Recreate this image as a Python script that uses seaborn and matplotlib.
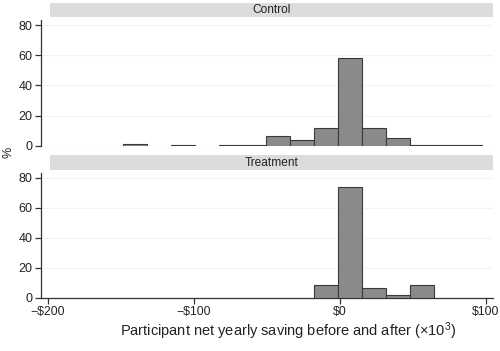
import numpy as np
import matplotlib
matplotlib.use("Agg")
import matplotlib.pyplot as plt
import seaborn as sns

# Histogram bins (x 10^3 dollars), shared by both panels
bin_start = -148.8
bin_width = 16.4
n_bins = 15

# Percent of participants per bin
control_pct = [1.0, 0.0, 0.6, 0.0, 0.5, 0.6, 6.5, 3.5, 11.5, 58.0, 11.5, 5.0, 0.6, 0.6, 0.6]
treatment_pct = [0.0, 0.0, 0.0, 0.0, 0.0, 0.0, 0.0, 0.0, 8.5, 74.0, 6.5, 1.5, 8.5, 0.0, 0.0]

panels = ["Control", "Treatment"]
x_ticks = [-200, -100, 0, 100]
x_ticklabels = ["\u2212$200", "\u2212$100", "$0", "$100"]
y_ticks = [0, 20, 40, 60, 80]

sns.set_theme(style="ticks")
plt.rcParams['font.family'] = ['Liberation Sans', 'DejaVu Sans']
plt.rcParams['mathtext.fontset'] = 'custom'
plt.rcParams['mathtext.rm'] = 'Liberation Sans'
plt.rcParams['mathtext.it'] = 'Liberation Sans:italic'

W, H = 500, 351
fig = plt.figure(figsize=(W / 100, H / 100), dpi=100)


def px_axes(x0, y0, x1, y1):
    """Add axes from pixel box (top-left origin)"""
    return fig.add_axes([x0 / W, 1 - y1 / H, (x1 - x0) / W, (y1 - y0) / H])


bar_face = '#8a8a8a'
bar_edge = '#3a3a3a'
axis_col = '#333333'
text_col = '#222222'

boxes = [(20, 145.7, 2.7, 17.3), (172.7, 297.7, 155, 170)]
data = [control_pct, treatment_pct]

edges = bin_start + bin_width * np.arange(n_bins)

for i, name in enumerate(panels):
    top, bottom, s0, s1 = boxes[i]
    ax = px_axes(41, top, 493, bottom)
    pct = np.array(data[i])
    keep = pct > 0
    ax.bar(edges[keep], pct[keep], width=bin_width, align='edge',
           color=bar_face, edgecolor=bar_edge, linewidth=0.8, zorder=3)
    ax.set_xlim(-204.8, 104.8)
    ax.set_ylim(0, 83.5)
    ax.set_yticks(y_ticks)
    ax.set_yticklabels([str(t) for t in y_ticks], fontsize=9, color=text_col)
    ax.yaxis.grid(True, color='#f3f3f3', linewidth=0.8, zorder=0)
    ax.tick_params(axis='y', length=4, width=0.9, color=axis_col, pad=2)
    for s in ['top', 'right']:
        ax.spines[s].set_visible(False)
    ax.spines['left'].set_color(axis_col)
    ax.spines['left'].set_linewidth(0.9)
    if i == 0:
        ax.spines['bottom'].set_visible(False)
        ax.set_xticks([])
    else:
        ax.spines['bottom'].set_color(axis_col)
        ax.spines['bottom'].set_linewidth(0.9)
        ax.set_xticks(x_ticks)
        ax.set_xticklabels(x_ticklabels, fontsize=8.8, color=text_col)
        ax.tick_params(axis='x', length=4, width=0.9, color=axis_col, pad=2)
    ax.set_facecolor('white')

    # strip title
    sax = px_axes(50, s0, 493, s1)
    sax.set_facecolor('#dcdcdc')
    sax.set_xticks([])
    sax.set_yticks([])
    for s in sax.spines.values():
        s.set_visible(False)
    sax.text(0.5, 0.5, name, ha='center', va='center', fontsize=8.6, color=text_col,
             transform=sax.transAxes)

fig.text(8 / W, 1 - 152 / H, '%', rotation=90, ha='center', va='center',
         fontsize=9, color=text_col)
fig.text(288 / W, 1 - 331 / H,
         'Participant net yearly saving before and after (\u00d710$^3$)',
         ha='center', va='center', fontsize=10.5, color=text_col)

fig.savefig('out.png', dpi=100)
